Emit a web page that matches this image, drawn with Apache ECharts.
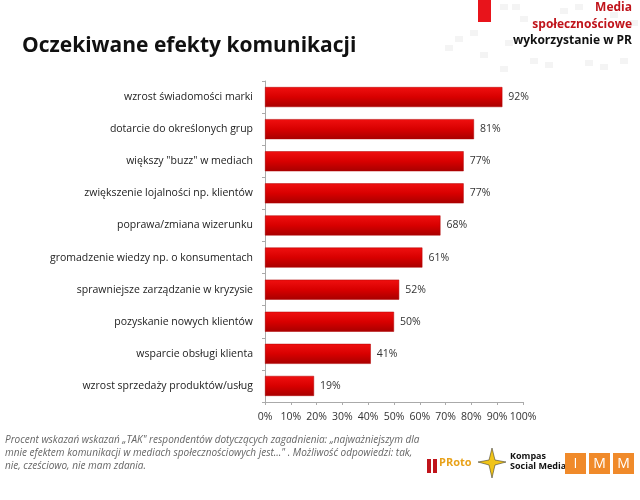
<!DOCTYPE html>
<html><head><meta charset="utf-8">
<script src="https://cdn.jsdelivr.net/npm/echarts@6/dist/echarts.min.js"></script>
<style>html,body{margin:0;padding:0;background:#fff}#c{width:640px;height:500px}</style>
</head><body><div id="c"></div>
<script>
var categories = ["wzrost świadomości marki","dotarcie do określonych grup","większy \"buzz\" w mediach","zwiększenie lojalności np. klientów","poprawa/zmiana wizerunku","gromadzenie wiedzy np. o konsumentach","sprawniejsze zarządzanie w kryzysie","pozyskanie nowych klientów","wsparcie obsługi klienta","wzrost sprzedaży produktów/usług"];
var values = [92,81,77,77,68,61,52,50,41,19];
var xTicks = [0,10,20,30,40,50,60,70,80,90,100];

var F = "'Open Sans', 'Liberation Sans', sans-serif";
var chart = echarts.init(document.getElementById('c'));
var graphics = [
  {type:'rect', shape:{x:478,y:0,width:13,height:22}, style:{fill:'#e8141b'}},
  {type:'text', right:8, top:2, style:{text:'Media', fill:'#c0141b', font:'bold 12px '+F, align:'right'}},
  {type:'text', right:8, top:19, style:{text:'społecznościowe', fill:'#c0141b', font:'bold 12px '+F, align:'right'}},
  {type:'text', right:8, top:35, style:{text:'wykorzystanie w PR', fill:'#111', font:'bold 12px '+F, align:'right'}},
  {type:'text', left:22, top:36, style:{text:'Oczekiwane efekty komunikacji', fill:'#111', font:'bold 21px '+F}},
  {type:'text', left:5, top:434, style:{text:'Procent wskazań wskazań „TAK" respondentów dotyczących zagadnienia: „najważniejszym dla\nmnie efektem komunikacji w mediach społecznościowych jest..." . Możliwość odpowiedzi: tak,\nnie, cześciowo, nie mam zdania.', fill:'#666', font:'italic 10px '+F, lineHeight:13}},
  {type:'rect', shape:{x:427,y:459,width:4,height:14}, style:{fill:'#c0141b'}},
  {type:'rect', shape:{x:433,y:459,width:4,height:14}, style:{fill:'#c0141b'}},
  {type:'text', left:439, top:457, style:{text:'PRoto', fill:'#e8a21b', font:'bold 11px '+F}},
  {type:'polygon', shape:{points:[[492,448],[495,460],[506,462],[495,465],[492,478],[489,465],[478,462],[489,460]]}, style:{fill:'#f0c419', stroke:'#222', lineWidth:0.5}},
  {type:'text', left:510, top:451, style:{text:'Kompas\nSocial Media', fill:'#111', font:'bold 9px '+F, lineHeight:10}},
  {type:'rect', shape:{x:565,y:453,width:21,height:21}, style:{fill:'#f08a2a'}},
  {type:'rect', shape:{x:589,y:453,width:21,height:21}, style:{fill:'#f08a2a'}},
  {type:'rect', shape:{x:613,y:453,width:21,height:21}, style:{fill:'#f08a2a'}},
  {type:'text', x:575.5, y:457, style:{text:'I', fill:'#fff', font:'14px '+F, align:'center'}},
  {type:'text', x:599.5, y:457, style:{text:'M', fill:'#fff', font:'14px '+F, align:'center'}},
  {type:'text', x:623.5, y:457, style:{text:'M', fill:'#fff', font:'14px '+F, align:'center'}}
];
// faint mosaic in top-right corner
var mosaic = [[500,4],[512,4],[560,8],[575,4],[610,12],[520,16],[470,30],[455,36],[445,45],[530,58],[545,62],[585,60],[600,64],[620,58],[500,66],[480,52],[630,20],[505,40]];
mosaic.forEach(function(p){graphics.push({type:'rect', z:-1, shape:{x:p[0],y:p[1],width:8,height:6}, style:{fill:'#f4f4f4'}});});

chart.setOption({
  animation:false,
  backgroundColor:'#fff',
  graphic: graphics,
  grid:{left:265, right:117, top:81, bottom:98, containLabel:false},
  xAxis:{type:'value', min:0, max:100, interval:10,
    axisLine:{show:true, lineStyle:{color:'#aaa'}},
    axisTick:{show:true, length:3, inside:false, lineStyle:{color:'#aaa'}},
    splitLine:{show:false},
    axisLabel:{color:'#333', fontFamily:F, fontSize:10.5, margin:10, formatter:function(v){return v+'%';}}},
  yAxis:{type:'category', data:categories, inverse:true,
    axisLine:{show:true, lineStyle:{color:'#aaa'}},
    axisTick:{show:true, length:3, lineStyle:{color:'#aaa'}},
    axisLabel:{color:'#222', fontFamily:F, fontSize:10.5, margin:12}},
  series:[{type:'bar', data:values, barWidth:20,
    itemStyle:{color:new echarts.graphic.LinearGradient(0,0,0,1,[{offset:0,color:'#f01010'},{offset:0.5,color:'#d80000'},{offset:1,color:'#a80000'}]), borderColor:'#b00000', borderWidth:0.5},
    label:{show:true, position:'right', distance:6, color:'#333', fontFamily:F, fontSize:10.5, formatter:'{c}%'}}]
});
</script></body></html>
